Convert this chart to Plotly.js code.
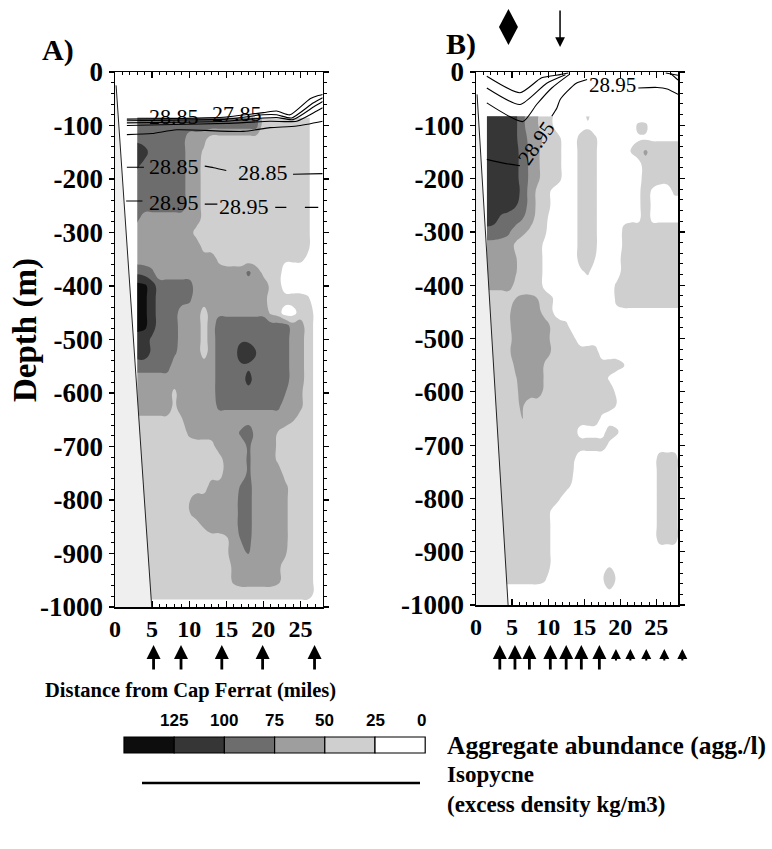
<!DOCTYPE html>
<html>
<head>
<meta charset="utf-8">
<script src="https://cdn.plot.ly/plotly-3.0.1.min.js"></script>
<style>
  html, body { margin: 0; padding: 0; background: #ffffff; }
  #chart { width: 772px; height: 849px; }
</style>
</head>
<body>
<div id="chart"></div>
<script>
// ---------------------------------------------------------------
// Aggregate abundance (agg./l) along two sections off Cap Ferrat
// ---------------------------------------------------------------

// abundance classes shown in the key (left to right)
const levelLabels = [125, 100, 75, 50, 25, 0];
const levelColors = ['#0d0d0d', '#363636', '#6d6d6d', '#9e9e9e', '#cfcfcf', '#ffffff'];

// ---- section A ----
const distA = [3, 4, 5, 6, 7, 8, 9, 10, 11, 12, 13, 14, 15, 16, 17, 18, 19, 20, 21, 22, 23, 24, 25, 26, 27, 28];
const depthA = [-85, -100, -125, -150, -175, -200, -225, -250, -275, -300, -325, -350, -375, -400, -425, -450,
  -475, -500, -525, -550, -575, -600, -625, -650, -675, -700, -725, -750, -775, -800, -825, -850, -875, -900,
  -925, -950, -975, -1000];
const abundanceA = [
  [87,87,87,87,87,87,87,87,87,87,87,87,87,87,87,87,87,37,37,37,37,37,37,30,10,10],
  [87,87,87,87,87,87,87,87,87,87,87,87,87,87,87,87,87,37,37,37,37,37,37,30,10,10],
  [95,87,87,87,87,87,87,62,62,58,37,37,37,37,37,37,37,37,37,37,37,37,37,30,10,10],
  [112,110,87,87,87,87,87,62,62,45,37,37,37,37,37,37,37,37,37,37,37,37,37,30,10,10],
  [105,90,87,87,87,87,87,62,62,40,37,37,37,37,37,37,37,37,37,37,37,37,37,30,10,10],
  [87,87,87,87,87,87,87,62,62,40,37,37,37,37,37,37,37,37,37,37,37,37,37,30,10,10],
  [87,87,87,87,87,87,87,62,62,40,37,37,37,37,37,37,37,37,37,37,37,37,37,30,10,10],
  [87,87,87,87,87,87,87,62,62,40,37,37,37,37,37,37,37,37,37,37,37,37,37,30,10,10],
  [80,62,62,62,62,62,62,62,62,40,37,37,37,37,37,37,37,37,37,37,37,37,37,30,10,10],
  [62,62,62,62,62,62,62,62,40,37,37,37,37,37,37,37,37,37,37,37,37,37,37,30,10,10],
  [62,62,62,62,62,62,62,62,62,40,37,37,37,37,37,37,37,37,37,37,37,37,37,30,10,10],
  [62,62,62,62,62,62,62,62,62,62,62,45,37,37,37,37,37,37,37,37,30,30,30,20,10,10],
  [95,90,80,62,62,62,62,62,62,62,62,62,62,62,62,80,62,45,37,37,10,10,10,10,10,10],
  [135,130,112,87,87,87,87,87,62,62,62,62,62,62,62,62,62,62,45,37,10,10,10,10,10,10],
  [135,130,112,87,87,87,87,80,62,62,62,62,62,62,62,62,62,62,37,37,37,37,37,30,10,10],
  [135,130,112,87,87,87,62,62,62,40,62,70,70,70,70,70,70,70,45,37,10,15,37,37,20,10],
  [135,130,112,87,87,87,62,62,62,40,62,87,87,87,87,87,87,87,87,87,87,62,62,37,20,10],
  [112,112,95,87,87,87,62,62,62,40,62,87,87,87,95,95,90,87,87,87,87,62,62,37,20,10],
  [112,112,95,87,87,80,62,62,62,40,62,87,87,87,115,115,102,87,87,87,87,62,62,37,20,10],
  [87,87,87,87,87,62,62,62,62,62,62,87,87,87,95,95,87,87,87,87,87,62,62,37,20,10],
  [62,62,62,62,62,62,62,62,62,62,62,87,87,87,87,110,87,87,87,87,87,62,62,37,20,10],
  [62,62,62,62,62,45,62,62,62,62,62,87,87,87,87,87,87,87,87,87,75,62,55,37,20,10],
  [62,62,62,62,62,45,62,62,62,62,62,80,80,80,80,80,80,80,80,80,62,62,55,37,20,10],
  [45,45,45,45,45,45,48,62,62,62,62,62,62,62,62,62,62,62,62,62,62,52,40,37,20,10],
  [37,37,37,37,37,37,37,55,62,62,62,62,62,62,80,95,62,62,62,48,37,37,37,37,20,10],
  [37,37,37,37,37,37,37,37,37,37,40,62,62,62,62,80,62,62,62,45,37,37,37,37,20,10],
  [37,37,37,37,37,37,37,37,37,37,37,37,62,62,62,80,62,62,62,45,37,37,37,37,20,10],
  [37,37,37,37,37,37,37,37,37,37,37,37,62,62,62,80,62,62,62,62,40,37,37,37,20,10],
  [37,37,37,37,37,37,37,37,37,37,62,62,62,62,78,85,62,62,62,62,55,37,37,37,20,10],
  [37,37,37,37,37,37,37,48,62,62,62,62,62,62,85,85,62,62,62,62,55,37,37,37,20,10],
  [37,37,37,37,37,37,37,48,62,62,62,62,62,62,85,85,62,62,62,62,55,37,37,37,20,10],
  [37,37,37,37,37,37,37,37,37,52,62,62,62,62,85,85,62,62,62,62,55,37,37,37,20,10],
  [37,37,37,37,37,37,37,37,37,37,37,37,45,62,76,82,62,62,62,62,55,37,37,37,20,10],
  [37,37,37,37,37,37,37,37,37,37,37,37,45,62,62,77,62,62,62,62,52,37,37,37,20,10],
  [37,37,37,37,37,37,37,37,37,37,37,37,40,55,62,62,62,62,62,55,40,37,37,37,20,10],
  [37,37,37,37,37,37,37,37,37,37,37,37,37,55,62,62,62,62,62,55,40,37,37,37,20,10],
  [37,37,37,37,37,37,37,37,37,37,37,37,37,37,37,37,37,37,37,37,37,37,37,37,20,10],
  [10,10,10,10,10,10,10,10,10,10,10,10,10,10,10,10,10,10,10,10,10,10,10,10,10,10]
];

// ---- section B ----
const distB = [1.5, 2.5, 3.5, 4.5, 5.5, 6.5, 7.5, 8.5, 9.5, 10.5, 11.5, 12.5, 13.5, 14.5, 15.5, 16.5, 17.5,
  18.5, 19.5, 20.5, 21.5, 22.5, 23.5, 24.5, 25.5, 26.5, 27.5, 28.5];
const depthB = [-83, -100, -125, -150, -175, -200, -225, -250, -275, -300, -325, -350, -375, -400, -425, -450,
  -475, -500, -525, -550, -575, -600, -625, -650, -675, -700, -725, -750, -775, -800, -825, -850, -875, -900,
  -925, -950, -975, -1000];
const abundanceB = [
  [112,112,112,112,105,80,62,52,37,28,10,10,10,10,30,10,10,10,10,10,10,10,10,10,10,10,10,10],
  [112,112,112,112,105,80,62,52,37,28,10,10,10,10,20,10,10,10,10,10,10,30,30,10,10,10,10,10],
  [112,112,112,112,105,82,70,60,45,40,30,10,10,37,37,30,10,10,10,10,22,22,22,22,22,22,22,22],
  [112,112,112,112,108,88,70,55,40,37,32,10,10,37,37,30,10,10,10,10,26,37,55,37,37,37,37,37],
  [112,112,112,112,108,88,70,55,40,37,32,10,10,37,37,30,10,10,10,10,10,15,37,37,37,37,37,37],
  [112,112,112,112,108,88,70,55,40,37,32,10,10,37,37,30,10,10,10,10,10,15,37,37,37,37,37,37],
  [112,112,112,112,112,90,65,45,37,22,10,10,10,37,37,30,10,10,10,10,10,20,37,20,10,10,30,30],
  [112,112,112,112,102,88,65,45,37,22,10,10,10,37,37,30,10,10,10,10,10,20,37,20,10,10,10,10],
  [112,108,95,88,85,75,60,42,33,15,10,10,10,37,37,30,10,10,10,20,20,20,37,20,20,20,20,20],
  [92,90,85,78,65,55,45,37,30,10,10,10,10,37,37,30,10,10,10,30,37,37,37,37,37,37,37,37],
  [65,65,65,65,45,37,37,37,20,10,10,10,10,37,37,30,10,10,10,30,37,37,37,37,37,37,37,37],
  [65,65,65,65,52,37,37,37,20,10,10,10,10,37,37,25,10,10,10,37,37,37,37,37,37,37,37,37],
  [65,65,65,65,52,37,37,37,20,10,10,10,10,20,30,10,10,10,10,37,37,37,37,37,37,37,37,37],
  [58,58,58,58,45,37,37,37,20,10,10,10,10,10,10,10,10,10,30,37,37,37,37,37,37,37,37,37],
  [37,37,37,40,50,55,55,50,35,28,10,10,10,10,10,10,10,10,30,37,37,37,37,37,37,37,37,37],
  [37,37,37,45,62,62,62,60,40,28,10,10,10,10,10,10,10,10,20,20,20,20,20,20,20,20,20,20],
  [37,37,37,45,62,62,62,62,62,45,37,30,10,10,10,10,10,10,10,10,10,10,10,10,10,10,10,10],
  [37,37,37,40,62,62,62,62,62,45,37,37,30,10,10,10,10,10,10,10,10,10,10,10,10,10,10,10],
  [37,37,37,45,62,62,62,62,62,48,37,37,37,37,37,37,10,10,10,10,10,10,10,10,10,10,10,10],
  [37,37,37,37,55,62,62,62,48,37,37,37,37,37,37,37,37,37,37,26,10,10,10,10,10,10,10,10],
  [37,37,37,37,48,62,62,62,48,37,37,37,37,37,37,37,37,22,10,10,10,10,10,10,10,10,10,10],
  [37,37,37,37,45,60,62,62,45,37,37,37,37,37,37,37,37,37,20,10,10,10,10,10,10,10,10,10],
  [37,37,37,37,48,52,37,37,37,37,37,37,37,37,37,37,37,37,24,10,10,10,10,10,10,10,10,10],
  [37,37,37,37,42,51,37,37,37,37,37,37,37,37,37,37,20,10,10,10,10,10,10,10,10,10,10,10],
  [37,37,37,37,37,37,37,37,37,37,37,37,37,15,15,15,15,37,30,10,10,10,10,10,10,10,10,10],
  [37,37,37,37,37,37,37,37,37,37,37,37,37,37,37,37,37,20,10,10,10,10,10,10,10,10,10,10],
  [37,37,37,37,37,37,37,37,37,37,37,37,30,10,10,10,10,10,10,10,10,10,10,10,37,37,37,10],
  [37,37,37,37,37,37,37,37,37,37,37,37,25,10,10,10,10,10,10,10,10,10,10,10,37,37,37,10],
  [37,37,37,37,37,37,37,37,37,37,37,37,18,10,10,10,10,10,10,10,10,10,10,10,37,37,37,10],
  [37,37,37,37,37,37,37,37,37,37,28,10,10,10,10,10,10,10,10,10,10,10,10,10,37,37,37,10],
  [37,37,37,37,37,37,37,37,37,22,10,10,10,10,10,10,10,10,10,10,10,10,10,10,37,37,37,10],
  [37,37,37,37,37,37,37,37,37,22,10,10,10,10,10,10,10,10,10,10,10,10,10,10,37,37,37,10],
  [37,37,37,37,37,37,37,37,37,22,10,10,10,10,10,10,10,10,10,10,10,10,10,10,37,37,37,10],
  [37,37,37,37,37,37,37,37,37,22,10,10,10,10,10,10,10,10,10,10,10,10,10,10,10,10,10,10],
  [37,37,37,37,37,37,37,37,37,22,10,10,10,10,10,10,10,22,10,10,10,10,10,10,10,10,10,10],
  [37,37,37,37,37,37,37,37,30,10,10,10,10,10,10,10,22,40,22,10,10,10,10,10,10,10,10,10],
  [10,10,10,10,10,10,10,10,10,10,10,10,10,10,10,10,10,22,10,10,10,10,10,10,10,10,10,10],
  [10,10,10,10,10,10,10,10,10,10,10,10,10,10,10,10,10,10,10,10,10,10,10,10,10,10,10,10]
];

// ---- isopycnals (excess density, kg/m3): [distance, depth] ----
const isoA1 = [[1.6,-88],[8,-87],[15,-84],[20,-76],[21.8,-73],[23.6,-80],[26.3,-50],[27.4,-44],[28,-42]];
const isoA2 = [[1.6,-91],[8,-90],[15,-88],[20,-80],[21.8,-80],[23.8,-86],[26.7,-58],[28,-48]];
const isoA3 = [[1.6,-95],[8,-94],[15,-92],[20,-86],[21.8,-85],[24,-89],[26.9,-64],[28,-55]];
const isoA4 = [[1.6,-100],[8,-98],[15,-96],[20.9,-92],[24.5,-92],[27.2,-73],[28,-67]];
const isoA5 = [[1.6,-117],[5,-115],[8.3,-108],[17.3,-111],[20.9,-104],[24.5,-101],[28,-92]];
const isoA2885 = [[1.6,-178],[3.9,-178],null,[12.1,-176],[13.3,-179],[15,-184],null,[24,-191],[28,-190]];
const isoA2895 = [[1.5,-241],[3.7,-241],null,[12.1,-247],[13.8,-247],null,[21.6,-253],[23.1,-253],null,[25.6,-253],[27.4,-253]];
const isoLabelsA = [
  {text: '28.85', at: [7.9, -83], angle: 0},
  {text: '27.85', at: [16.4, -77], angle: 0},
  {text: '28.85', at: [7.9, -176], angle: 0},
  {text: '28.85', at: [19.9, -188], angle: 0},
  {text: '28.95', at: [7.9, -243], angle: 0},
  {text: '28.95', at: [17.4, -251], angle: 0}
];

const isoB1 = [[1.5,-8],[6.1,-39],[9.1,-11],[11.65,-5],[12.8,-2]];
const isoB2 = [[1.5,-30],[6.1,-61],[9.8,-21],[12.4,-5]];
const isoB3 = [[1.5,-58],[6.5,-93],[8.4,-61],[10.5,-30],[13,-4]];
const isoB2895 = [[1.5,-164],[3.8,-171],[6.1,-176],null,[10.5,-83],[11.2,-68],[11.65,-52],[12.6,-37],
  [13.9,-21],[15.4,-14],null,[22.5,-30],[25.1,-29],[26.5,-32],[28,-42]];
const isoBcorner = [[26.3,-2],[28,-6],null,[27,-3],[28,-15]];
const isoLabelsB = [
  {text: '28.95', at: [8.4, -134], angle: -55},
  {text: '28.95', at: [18.9, -24], angle: 0}
];

// ---- stations (miles from Cap Ferrat) ----
const stationsA = [5.2, 8.9, 14.4, 19.9, 26.9];
const stationsB = [3.3, 5.4, 7.4, 10.3, 12.5, 14.6, 17.1];
const stationsBextra = [19.4, 21.4, 23.6, 26.1, 28.6];
const markDiamondB = 4.5;
const markArrowB = 11.65;

// ---- axes ----
const xTicks = [0, 5, 10, 15, 20, 25];
const yTicks = [0, -100, -200, -300, -400, -500, -600, -700, -800, -900, -1000];
const yTickText = ['0', '-100', '-200', '-300', '-400', '-500', '-600', '-700', '-800', '-900', '-1000'];

// ---------------------------------------------------------------
const W = 772, H = 849;
const SERIF = 'Liberation Serif';
const px = v => v / W;
const py = v => 1 - v / H;

const domA = [px(115), px(322.7)];
const domB = [px(476), px(678)];
const domYA = [py(607), py(72)];
const domYB = [py(605), py(72)];
const X_MAX = 28;
const paperA = m => domA[0] + m / X_MAX * (domA[1] - domA[0]);
const paperB = m => domB[0] + m / X_MAX * (domB[1] - domB[0]);

// stepped grey scale: band midpoints map to 0, .2, .4, .6, .8, 1
const fills = levelColors.slice().reverse();
const colorscale = [];
fills.forEach((c, i) => {
  const lo = Math.max(0, i * 0.2 - 0.1), hi = Math.min(1, i * 0.2 + 0.1);
  colorscale.push([lo, c], [hi, c]);
});

function contourTrace(x, y, z, xa, ya) {
  return {
    type: 'contour', x: x, y: y, z: z, xaxis: xa, yaxis: ya,
    contours: {start: 25, end: 125, size: 25, coloring: 'fill', showlines: false},
    line: {width: 0, smoothing: 1.3},
    colorscale: colorscale, showscale: false, hoverinfo: 'skip'
  };
}

function lineTrace(pts, xa, ya) {
  return {
    type: 'scatter', mode: 'lines', xaxis: xa, yaxis: ya,
    x: pts.map(p => p ? p[0] : null), y: pts.map(p => p ? p[1] : null),
    line: {color: '#000', width: 1.1, shape: 'spline', smoothing: 0.6},
    connectgaps: false, hoverinfo: 'skip', showlegend: false
  };
}

const traces = [
  contourTrace(distA, depthA, abundanceA, 'x', 'y'),
  contourTrace(distB, depthB, abundanceB, 'x2', 'y2')
];
[isoA1, isoA2, isoA3, isoA4, isoA5, isoA2885, isoA2895].forEach(p => traces.push(lineTrace(p, 'x', 'y')));
[isoB1, isoB2, isoB3, isoB2895, isoBcorner].forEach(p => traces.push(lineTrace(p, 'x2', 'y2')));

function xAxis(domain, anchor) {
  return {
    domain: domain, anchor: anchor, range: [0, X_MAX], fixedrange: true,
    showline: true, linecolor: '#000', linewidth: 1.5, mirror: 'allticks',
    showgrid: false, zeroline: false,
    tickmode: 'array', tickvals: xTicks, ticktext: xTicks.map(String),
    ticks: 'inside', ticklen: 6, tickwidth: 1.2, tickcolor: '#000',
    minor: {dtick: 1, tick0: 0, ticks: 'inside', ticklen: 3, tickwidth: 1, tickcolor: '#000', showgrid: false},
    tickfont: {family: SERIF, size: 24, color: '#000', weight: 'bold'}
  };
}
function yAxis(domain, anchor) {
  return {
    domain: domain, anchor: anchor, range: [-1000, 0], fixedrange: true,
    showline: true, linecolor: '#000', linewidth: 1.5, mirror: 'allticks',
    showgrid: false, zeroline: false,
    tickmode: 'array', tickvals: yTicks, ticktext: yTickText,
    ticks: 'outside', ticklen: 5, tickwidth: 1.2, tickcolor: '#000',
    minor: {dtick: 20, tick0: 0, ticks: 'outside', ticklen: 3, tickwidth: 1, tickcolor: '#000', showgrid: false},
    tickfont: {family: SERIF, size: 27, color: '#000', weight: 'bold'}
  };
}

// slope wedge (outside the surveyed area) and its edge line
const shapes = [
  {type: 'path', xref: 'x', yref: 'y', path: 'M0,-25 L0.15,-25 L4.95,-1000 L0,-1000 Z',
   fillcolor: '#efefef', line: {width: 0}, layer: 'above'},
  {type: 'line', xref: 'x', yref: 'y', x0: 0.15, y0: -25, x1: 4.95, y1: -1000,
   line: {color: '#222', width: 1}, layer: 'above'},
  {type: 'path', xref: 'x2', yref: 'y2', path: 'M0,-42 L0.15,-42 L4.45,-1000 L0,-1000 Z',
   fillcolor: '#efefef', line: {width: 0}, layer: 'above'},
  {type: 'line', xref: 'x2', yref: 'y2', x0: 0.15, y0: -42, x1: 4.45, y1: -1000,
   line: {color: '#222', width: 1}, layer: 'above'}
];

// diamond marker above section B
const dc = paperB(markDiamondB), dy = py(27), dw = px(9.5), dh = 18 / H;
shapes.push({type: 'path', xref: 'paper', yref: 'paper',
  path: `M${dc},${dy + dh} L${dc + dw},${dy} L${dc},${dy - dh} L${dc - dw},${dy} Z`,
  fillcolor: '#000', line: {width: 0}});

// key: grey boxes and isopycnal line
const boxX0 = 124, boxW = 50.2, boxTop = 737, boxBot = 753;
levelColors.forEach((c, i) => {
  shapes.push({type: 'rect', xref: 'paper', yref: 'paper',
    x0: px(boxX0 + i * boxW), x1: px(boxX0 + (i + 1) * boxW), y0: py(boxBot), y1: py(boxTop),
    fillcolor: c, line: {color: '#000', width: 1.2}});
});
shapes.push({type: 'line', xref: 'paper', yref: 'paper', x0: px(142), x1: px(420), y0: py(783), y1: py(783),
  line: {color: '#000', width: 2.6}});

const annotations = [];
function txt(text, x, y, size, opts) {
  annotations.push(Object.assign({
    text: text, x: x, y: y, xref: 'paper', yref: 'paper', showarrow: false,
    font: {family: SERIF, size: size, color: '#000', weight: 'bold'},
    xanchor: 'center', yanchor: 'middle', borderpad: 0
  }, opts || {}));
}
txt('A)', px(58), py(50), 30);
txt('B)', px(461), py(44), 30);
txt('Depth (m)', px(25), py(330), 33, {textangle: -90});
txt('Distance from Cap Ferrat (miles)', px(190), py(690), 20.5);
txt('Aggregate abundance (agg./l)', px(446), py(745), 25.5, {xanchor: 'left'});
txt('Isopycne', px(446), py(774), 23, {xanchor: 'left'});
txt('(excess density kg/m3)', px(446), py(804), 23, {xanchor: 'left'});
levelLabels.forEach((v, i) => {
  txt(String(v), px(boxX0 + (i + 1) * boxW - (i === 5 ? 4 : 0)), py(720), 17,
    {font: {family: 'Liberation Sans Narrow, Liberation Sans, Arial, sans-serif', size: 17, color: '#000', weight: 'bold'}});
});

// isopycnal labels
isoLabelsA.forEach(l => annotations.push({text: l.text, x: l.at[0], y: l.at[1], xref: 'x', yref: 'y',
  showarrow: false, textangle: l.angle, font: {family: SERIF, size: 22, color: '#000'}}));
isoLabelsB.forEach(l => annotations.push({text: l.text, x: l.at[0], y: l.at[1], xref: 'x2', yref: 'y2',
  showarrow: false, textangle: l.angle, font: {family: SERIF, size: 21, color: '#000'}}));

// station arrows under the sections
function upArrow(xp, tip, len, width) {
  annotations.push({text: '', x: xp, y: py(tip), xref: 'paper', yref: 'paper',
    showarrow: true, arrowhead: 2, arrowsize: 1, arrowwidth: width, arrowcolor: '#000',
    ax: 0, ay: len, axref: 'pixel', ayref: 'pixel', standoff: 0});
}
stationsA.forEach(m => upArrow(paperA(m), 645, 26, 2.8));
stationsB.forEach(m => upArrow(paperB(m), 645, 26, 2.8));
stationsBextra.forEach(m => upArrow(paperB(m), 649, 13, 2));

// sampling mark above section B
annotations.push({text: '', x: paperB(markArrowB), y: py(47), xref: 'paper', yref: 'paper',
  showarrow: true, arrowhead: 2, arrowsize: 1.3, arrowwidth: 1.5, arrowcolor: '#000',
  ax: 0, ay: -38, axref: 'pixel', ayref: 'pixel', standoff: 0});

const layout = {
  width: W, height: H, margin: {l: 0, r: 0, t: 0, b: 0},
  font: {family: SERIF, color: '#000'},
  paper_bgcolor: '#ffffff', plot_bgcolor: '#ffffff', showlegend: false,
  xaxis: xAxis(domA, 'y'), yaxis: yAxis(domYA, 'x'),
  xaxis2: xAxis(domB, 'y2'), yaxis2: yAxis(domYB, 'x2'),
  shapes: shapes, annotations: annotations
};

Plotly.newPlot('chart', traces, layout, {staticPlot: true, displayModeBar: false});
</script>
</body>
</html>
